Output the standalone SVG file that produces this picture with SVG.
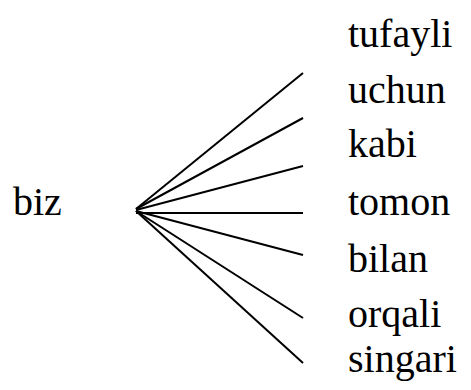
<svg xmlns="http://www.w3.org/2000/svg" width="471" height="390" viewBox="0 0 471 390">
<style>
.t{font-size:40px;fill:#000}
.c line{stroke:#000;stroke-width:2;stroke-linecap:butt}
</style>
<rect width="471" height="390" fill="#fff"/>
<g font-family="Liberation Serif, Times New Roman, serif" class="t">
<g id="node-biz"><text x="13" y="215">biz</text></g>
<g id="node-tufayli"><text x="348" y="47">tufayli</text></g>
<g id="node-uchun"><text x="348" y="103">uchun</text></g>
<g id="node-kabi"><text x="348" y="157">kabi</text></g>
<g id="node-tomon"><text x="348" y="215">tomon</text></g>
<g id="node-bilan"><text x="348" y="272">bilan</text></g>
<g id="node-orqali"><text x="348" y="327">orqali</text></g>
<g id="node-singari"><text x="348" y="372">singari</text></g>
</g>
<g class="c" id="connectors">
<line x1="136" y1="209" x2="303" y2="73"/>
<line x1="136" y1="209" x2="303" y2="118"/>
<line x1="136" y1="210" x2="303" y2="166"/>
<line x1="136" y1="213" x2="303" y2="213"/>
<line x1="136" y1="211" x2="303" y2="255"/>
<line x1="136" y1="211" x2="303" y2="318"/>
<line x1="136" y1="211" x2="303" y2="363"/>
</g>
</svg>
